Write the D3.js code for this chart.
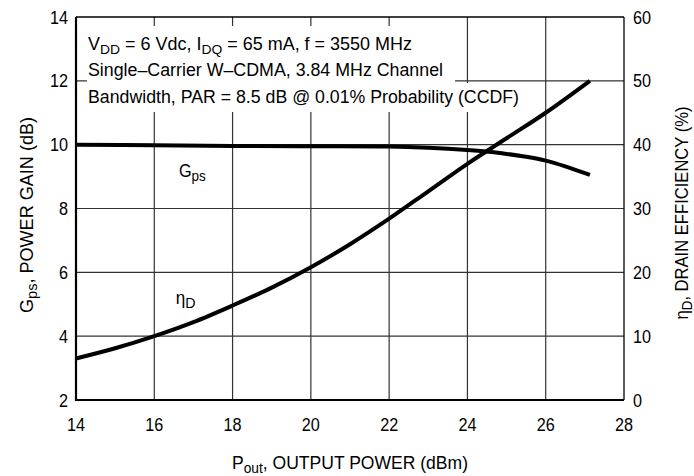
<!DOCTYPE html>
<html>
<head>
<meta charset="utf-8">
<script src="https://cdn.jsdelivr.net/npm/d3@7"></script>
<style>
  body { margin: 0; background: #fff; }
  text { font-family: "Liberation Sans", Arial, sans-serif; fill: #000; }
</style>
</head>
<body>
<script>
var width = 694;
var height = 476;
var margin = { top: 17, right: 70, bottom: 76, left: 76 };

// P_out (dBm) samples and curves
var poutGain = [14, 16, 18, 20, 22, 23, 24, 24.6, 25, 25.5, 26, 26.5, 27.13];
var gain = [10.0, 9.98, 9.96, 9.95, 9.94, 9.9, 9.83, 9.77, 9.71, 9.62, 9.5, 9.32, 9.05];
var poutEff = [14, 15, 16, 17, 18, 19, 20, 21, 22, 23, 24, 25, 26, 27.13];
var efficiency = [6.5, 8.1, 10, 12.2, 14.8, 17.6, 20.8, 24.4, 28.4, 32.7, 37.0, 41.0, 45.0, 50.0];

var xTicks = [14, 16, 18, 20, 22, 24, 26, 28];
var gainTicks = [2, 4, 6, 8, 10, 12, 14];
var effTicks = [0, 10, 20, 30, 40, 50, 60];

var noteLines = [
  [["V", ""], ["DD", "sub"], [" = 6 Vdc, I", ""], ["DQ", "sub"], [" = 65 mA, f = 3550 MHz", ""]],
  [["Single\u2013Carrier W\u2013CDMA, 3.84 MHz Channel", ""]],
  [["Bandwidth, PAR = 8.5 dB @ 0.01% Probability (CCDF)", ""]]
];
var noteWidths = [324, 355, 431];

var x = d3.scaleLinear().domain([14, 28]).range([margin.left, width - margin.right]);
var yGain = d3.scaleLinear().domain([2, 14]).range([height - margin.bottom, margin.top]);
var yEff = d3.scaleLinear().domain([0, 60]).range([height - margin.bottom, margin.top]);

var svg = d3.select("body")
  .append("svg")
  .attr("width", width)
  .attr("height", height);

// squeeze a text horizontally, to get the narrow look of the original face
function squeeze(sel, k) {
  sel.each(function() {
    var len = this.getComputedTextLength();
    d3.select(this)
      .attr("textLength", len * k)
      .attr("lengthAdjust", "spacingAndGlyphs");
  });
}

function fitTo(sel, w) {
  sel.attr("textLength", w).attr("lengthAdjust", "spacingAndGlyphs");
}

function addParts(t, parts, subSize) {
  var down = false;
  parts.forEach(function(p) {
    var s = t.append("tspan").text(p[0]);
    if (p[1] === "sub") {
      s.attr("dy", 4).attr("font-size", subSize);
      down = true;
    } else if (down) {
      s.attr("dy", -4);
      down = false;
    }
  });
}

// grid
svg.selectAll("line.vgrid")
  .data(xTicks.slice(1, -1))
  .enter()
  .append("line")
  .attr("x1", function(d) { return x(d); })
  .attr("x2", function(d) { return x(d); })
  .attr("y1", margin.top)
  .attr("y2", height - margin.bottom)
  .attr("stroke", "#333")
  .attr("stroke-width", 1.2);

svg.selectAll("line.hgrid")
  .data(gainTicks.slice(1, -1))
  .enter()
  .append("line")
  .attr("x1", margin.left)
  .attr("x2", width - margin.right)
  .attr("y1", function(d) { return yGain(d); })
  .attr("y2", function(d) { return yGain(d); })
  .attr("stroke", "#333")
  .attr("stroke-width", 1.2);

// white patches behind the note
svg.append("rect")
  .attr("x", 87).attr("y", 26)
  .attr("width", 368).attr("height", 57)
  .attr("fill", "#fff");
svg.append("rect")
  .attr("x", 87).attr("y", 83)
  .attr("width", 435).attr("height", 29)
  .attr("fill", "#fff");

var note = svg.append("g");
noteLines.forEach(function(parts, i) {
  var t = note.append("text")
    .attr("x", 88)
    .attr("y", 49.5 + i * 26.5)
    .attr("font-size", "17.5px");
  addParts(t, parts, "13.5px");
  fitTo(t, noteWidths[i]);
});

// frame
var frame = svg.append("g").attr("fill", "none").attr("stroke", "#000");
frame.append("line")
  .attr("x1", margin.left).attr("x2", width - margin.right)
  .attr("y1", margin.top).attr("y2", margin.top)
  .attr("stroke-width", 1.3);
frame.append("line")
  .attr("x1", width - margin.right).attr("x2", width - margin.right)
  .attr("y1", margin.top).attr("y2", height - margin.bottom)
  .attr("stroke-width", 1.3);
frame.append("line")
  .attr("x1", margin.left).attr("x2", margin.left)
  .attr("y1", margin.top).attr("y2", height - margin.bottom + 1)
  .attr("stroke-width", 2.2);
frame.append("line")
  .attr("x1", margin.left - 1).attr("x2", width - margin.right)
  .attr("y1", height - margin.bottom).attr("y2", height - margin.bottom)
  .attr("stroke-width", 2.2);

// curves
var gainLine = d3.line()
  .x(function(d, i) { return x(poutGain[i]); })
  .y(function(d) { return yGain(d); })
  .curve(d3.curveCatmullRom.alpha(0.5));

var effLine = d3.line()
  .x(function(d, i) { return x(poutEff[i]); })
  .y(function(d) { return yEff(d); })
  .curve(d3.curveCatmullRom.alpha(0.5));

svg.append("path")
  .attr("d", gainLine(gain))
  .attr("fill", "none")
  .attr("stroke", "#000")
  .attr("stroke-width", 4);

svg.append("path")
  .attr("d", effLine(efficiency))
  .attr("fill", "none")
  .attr("stroke", "#000")
  .attr("stroke-width", 4);

// tick labels
svg.selectAll("text.xt")
  .data(xTicks)
  .enter()
  .append("text")
  .attr("class", "xt")
  .text(function(d) { return d; })
  .attr("x", function(d) { return x(d); })
  .attr("y", height - margin.bottom + 31)
  .attr("text-anchor", "middle")
  .attr("font-size", "18px")
  .call(squeeze, 0.9);

svg.selectAll("text.yl")
  .data(gainTicks)
  .enter()
  .append("text")
  .attr("class", "yl")
  .text(function(d) { return d; })
  .attr("x", margin.left - 8)
  .attr("y", function(d) { return yGain(d) + 6.5; })
  .attr("text-anchor", "end")
  .attr("font-size", "18px")
  .call(squeeze, 0.9);

svg.selectAll("text.yr")
  .data(effTicks)
  .enter()
  .append("text")
  .attr("class", "yr")
  .text(function(d) { return d; })
  .attr("x", width - margin.right + 9)
  .attr("y", function(d) { return yEff(d) + 6.5; })
  .attr("text-anchor", "start")
  .attr("font-size", "18px")
  .call(squeeze, 0.9);

// curve labels
var gLabel = svg.append("text")
  .attr("x", x(16.63))
  .attr("y", yGain(9.0))
  .attr("font-size", "18px");
addParts(gLabel, [["G", ""], ["ps", "sub"]], "15px");
squeeze(gLabel, 0.9);

var eLabel = svg.append("text")
  .attr("x", x(16.55))
  .attr("y", yGain(5.0))
  .attr("font-size", "18px");
addParts(eLabel, [["\u03b7", ""], ["D", "sub"]], "15px");
squeeze(eLabel, 0.95);

// axis titles
var bt = svg.append("text")
  .attr("x", (margin.left + width - margin.right) / 2)
  .attr("y", 469)
  .attr("text-anchor", "middle")
  .attr("font-size", "18.5px");
addParts(bt, [["P", ""], ["out", "sub"], [", OUTPUT POWER (dBm)", ""]], "14.5px");
fitTo(bt, 236);

var lt = svg.append("text")
  .attr("transform", "translate(33,215) rotate(-90)")
  .attr("text-anchor", "middle")
  .attr("font-size", "18px");
addParts(lt, [["G", ""], ["ps", "sub"], [", POWER GAIN (dB)", ""]], "14.5px");
fitTo(lt, 196);

var rt = svg.append("text")
  .attr("transform", "translate(688,213) rotate(-90)")
  .attr("text-anchor", "middle")
  .attr("font-size", "18px");
addParts(rt, [["\u03b7", ""], ["D", "sub"], [", DRAIN EFFICIENCY (%)", ""]], "14.5px");
fitTo(rt, 213);
</script>
</body>
</html>
